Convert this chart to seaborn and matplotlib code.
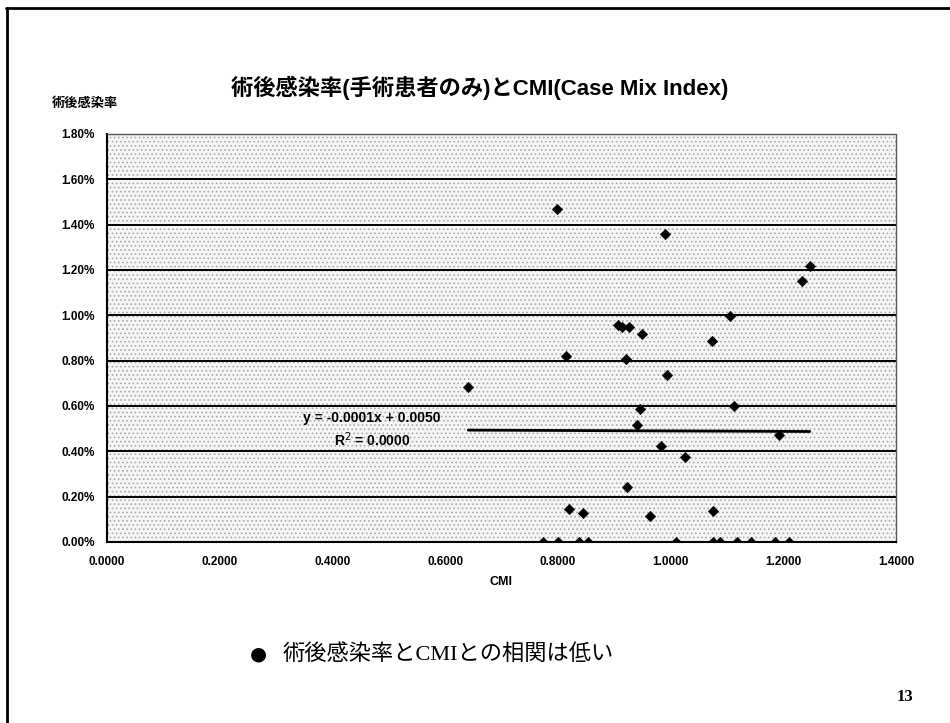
import numpy as np
import pandas as pd
import matplotlib
matplotlib.use("Agg")
import matplotlib.pyplot as plt
import seaborn as sns
from matplotlib.ticker import PercentFormatter, FormatStrFormatter
from matplotlib.lines import Line2D
from matplotlib.patches import Rectangle

# Data: CMI vs post-operative infection rate (%)
cmi = [0.798, 0.991, 1.247, 1.234, 1.105, 0.907, 0.913, 0.927, 0.950, 1.074,
       0.921, 0.814, 0.994, 0.641, 0.946, 1.112, 0.940, 1.193, 0.983, 1.026,
       0.923, 0.820, 0.844, 0.963, 1.075,
       0.774, 0.801, 0.837, 0.853, 1.010, 1.075, 1.088, 1.117, 1.142, 1.186, 1.211]
rate_pct = [1.469, 1.360, 1.218, 1.152, 0.998, 0.957, 0.950, 0.949, 0.918, 0.887,
            0.807, 0.821, 0.737, 0.686, 0.586, 0.602, 0.517, 0.472, 0.425, 0.377,
            0.244, 0.146, 0.127, 0.115, 0.138,
            0.0, 0.0, 0.0, 0.0, 0.0, 0.0, 0.0, 0.0, 0.0, 0.0, 0.0]

# Excel linear trendline as printed on the chart
slope = -0.0001
intercept = 0.0050
eq_text = "y = -0.0001x + 0.0050"
r2_text = "R$^2$ = 0.0000"

title = "術後感染率(手術患者のみ)とCMI(Case Mix Index)"
y_title = "術後感染率"
x_title = "CMI"
note = "術後感染率とCMIとの相関は低い"
page_no = "13"

df = pd.DataFrame({"CMI": cmi, "rate": np.array(rate_pct) / 100})

sns.set_theme(style="white")
plt.rcParams["font.family"] = ["Liberation Sans", "Noto Sans CJK JP"]
plt.rcParams["hatch.linewidth"] = 0.7
for key in ["text.color", "axes.labelcolor", "xtick.color", "ytick.color"]:
    plt.rcParams[key] = "black"

fig = plt.figure(figsize=(9.5, 7.23), dpi=100)
ax = fig.add_axes([107 / 950, 1 - 542 / 723, 789 / 950, 408 / 723])

# stippled plot area (Excel texture fill)
ax.set_facecolor("white")
ax.add_patch(Rectangle((0, 0), 1, 1, transform=ax.transAxes, facecolor="#f6f6f6",
                       edgecolor="#a8a8a8", hatch="....", linewidth=0, zorder=0))

# horizontal gridlines
ax.set_axisbelow(True)
ax.yaxis.grid(True, color="black", linewidth=1.4, zorder=1)
ax.xaxis.grid(False)

sns.scatterplot(data=df, x="CMI", y="rate", marker="D", color="black",
                edgecolor="black", s=28, zorder=3, ax=ax, legend=False)

# trendline across the data range
tx = np.array([df["CMI"].min(), df["CMI"].max()])
trend = pd.DataFrame({"CMI": tx, "rate": slope * tx + intercept})
sns.lineplot(data=trend, x="CMI", y="rate", color="black", linewidth=2,
             zorder=2, ax=ax)

ax.text(0.470, 0.00547, eq_text, ha="center", va="center",
        fontsize=10, fontweight="bold", zorder=4)
ax.text(0.470, 0.00450, r2_text, ha="center", va="center",
        fontsize=10, fontweight="bold", zorder=4)

ax.set_xlim(0, 1.4)
ax.set_ylim(0, 0.018)
ax.set_xticks(np.arange(0, 1.41, 0.2))
ax.set_yticks(np.arange(0, 0.0181, 0.002))
ax.xaxis.set_major_formatter(FormatStrFormatter("%.4f"))
ax.yaxis.set_major_formatter(PercentFormatter(xmax=1, decimals=2))
ax.tick_params(axis="both", length=0, labelsize=8.5)
ax.tick_params(axis="y", pad=9)
ax.tick_params(axis="x", pad=10)
for lab in ax.get_xticklabels() + ax.get_yticklabels():
    lab.set_fontweight("bold")

ax.set_xlabel(x_title, fontsize=9, fontweight="bold", labelpad=6)
ax.set_ylabel("")

for side in ["left", "bottom"]:
    ax.spines[side].set_color("black")
    ax.spines[side].set_linewidth(1.5)
for side in ["top", "right"]:
    ax.spines[side].set_color("#555555")
    ax.spines[side].set_linewidth(1.0)
    ax.spines[side].set_linestyle((0, (1, 1)))

fig.text(480 / 950, 1 - 88 / 723, title, ha="center", va="center",
         fontsize=16, fontweight="bold")
fig.text(52 / 950, 1 - 104 / 723, y_title, ha="left", va="center",
         fontsize=9.5, fontweight="bold")

fig.text(258 / 950, 1 - 654 / 723, "●", ha="center", va="center",
         fontsize=14, family=["DejaVu Sans"])
fig.text(283 / 950, 1 - 654 / 723, note, ha="left", va="center",
         fontsize=16, family=["Liberation Serif", "Noto Sans CJK JP"])
fig.text(905 / 950, 1 - 697 / 723, page_no, ha="center", va="center",
         fontsize=12, fontweight="bold", family=["Liberation Serif"])

# slide frame (top and left edges)
fig.add_artist(Line2D([6 / 950, 1], [1 - 8 / 723, 1 - 8 / 723],
                      transform=fig.transFigure, color="black", linewidth=2))
fig.add_artist(Line2D([7 / 950, 7 / 950], [0, 1 - 8 / 723],
                      transform=fig.transFigure, color="black", linewidth=2))

fig.savefig("out.png", dpi=100, facecolor="white")
